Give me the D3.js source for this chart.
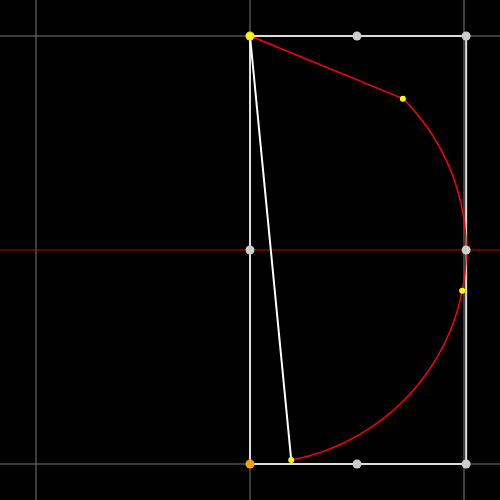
<!DOCTYPE html>
<html><head><meta charset="utf-8">
<script src="https://cdn.jsdelivr.net/npm/d3@7"></script>
<style>body{margin:0;background:#000}</style>
</head><body>
<svg width="500" height="500"></svg>
<script>
// grid positions in unit coordinates
const gridLines = [-1, 0, 1];
// rectangle handles (x, y)
const handles = [[0,1],[0.5,1],[1,1],[0,0],[1,0],[0,-1],[0.5,-1],[1,-1]];
const handleColors = ["#ffe600","#ccc","#ccc","#ccc","#ccc","#f0a000","#ccc","#ccc"];
// arc angles in degrees: start, end, and a marker between
const arcStart = 45, arcEnd = -79, arcMid = -11;
const apex = [0, 1];

const svg = d3.select("svg");
const x = d3.scaleLinear().domain([-1, 1]).range([36, 464]);
const y = d3.scaleLinear().domain([-1, 1]).range([464, 36]);
const rx = x(1.01) - x(0), ry = y(0) - y(1);

svg.append("rect").attr("width", 500).attr("height", 500).attr("fill", "#000");

svg.selectAll(".gx").data(gridLines).join("line")
  .attr("x1", d => x(d)).attr("x2", d => x(d)).attr("y1", 0).attr("y2", 500)
  .attr("stroke", "#777").attr("stroke-width", 1);
svg.selectAll(".gy").data(gridLines).join("line")
  .attr("y1", d => y(d)).attr("y2", d => y(d)).attr("x1", 0).attr("x2", 500)
  .attr("stroke", d => d === 0 ? "#c00" : "#777").attr("stroke-width", 1);

svg.append("rect").attr("x", x(0)).attr("y", y(1))
  .attr("width", x(1.01) - x(0)).attr("height", y(-1) - y(1))
  .attr("fill", "none").attr("stroke", "#ddd").attr("stroke-width", 2);

const pt = a => [x(0) + rx * Math.cos(a * Math.PI / 180), y(0) - ry * Math.sin(a * Math.PI / 180)];
const angles = d3.range(arcStart, arcEnd - 0.5, -1);
svg.append("path").attr("d", d3.line()(angles.map(pt)))
  .attr("fill", "none").attr("stroke", "red").attr("stroke-width", 1.5);

const s = pt(arcStart), e = pt(arcEnd);
svg.append("line").attr("x1", x(apex[0])).attr("y1", y(apex[1])).attr("x2", s[0]).attr("y2", s[1])
  .attr("stroke", "red").attr("stroke-width", 1.5);
svg.append("line").attr("x1", x(apex[0])).attr("y1", y(apex[1])).attr("x2", e[0]).attr("y2", e[1])
  .attr("stroke", "#fff").attr("stroke-width", 2);

svg.selectAll(".h").data(handles).join("circle")
  .attr("cx", d => x(d[0] === 1 ? 1.01 : d[0])).attr("cy", d => y(d[1])).attr("r", 4.5)
  .attr("fill", (d, i) => handleColors[i]);

svg.selectAll(".m").data([arcStart, arcMid, arcEnd]).join("circle")
  .attr("cx", d => pt(d)[0]).attr("cy", d => pt(d)[1]).attr("r", 3)
  .attr("fill", "#ff0");
svg.append("circle").attr("cx", x(apex[0])).attr("cy", y(apex[1])).attr("r", 3).attr("fill", "#ff0");
</script>
</body></html>
